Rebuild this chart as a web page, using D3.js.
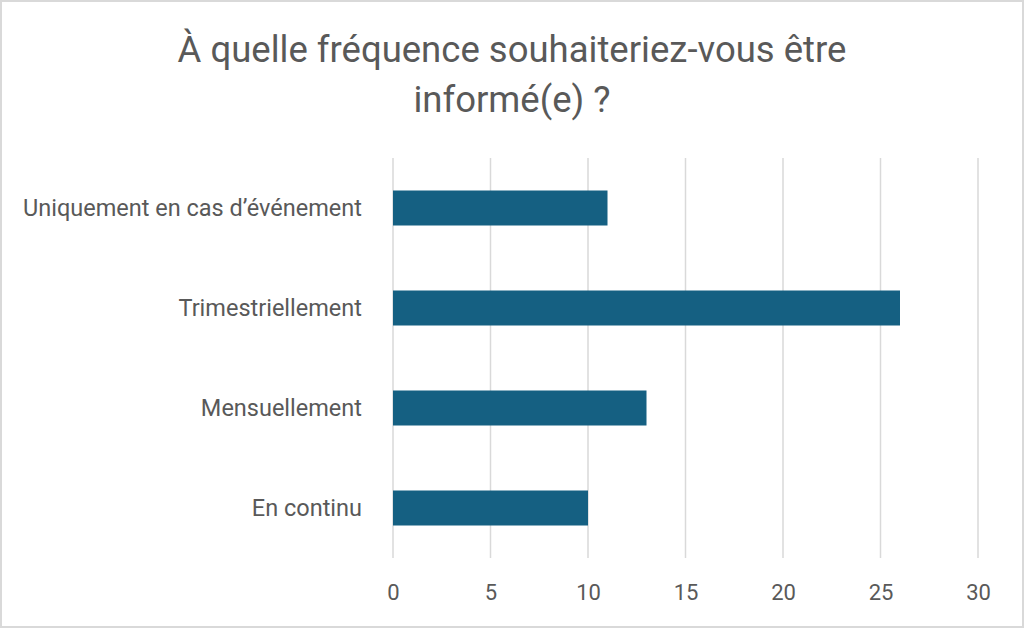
<!DOCTYPE html>
<html>
<head>
<meta charset="utf-8">
<script src="https://cdn.jsdelivr.net/npm/d3@7"></script>
<style>
    body { margin: 0; background: #fff; }
    #chart { width: 1024px; height: 628px; }
    text { font-family: Roboto, "Noto Sans", sans-serif; fill: #595959; }
</style>
</head>
<body>
<div id="chart"></div>
<script>

const titleLines = ["À quelle fréquence souhaiteriez-vous être", "informé(e) ?"];

const categories = ["Uniquement en cas d’événement", "Trimestriellement", "Mensuellement", "En continu"];

const values = [11, 26, 13, 10];

const xTicks = [0, 5, 10, 15, 20, 25, 30];


const width = 1024;
const height = 628;

const svg = d3.select("#chart")
    .append("svg")
    .attr("width", width)
    .attr("height", height);

// border around the whole chart
svg.append("rect")
    .attr("x", 1)
    .attr("y", 1)
    .attr("width", width - 2)
    .attr("height", height - 2)
    .attr("fill", "white")
    .attr("stroke", "#d9d9d9")
    .attr("stroke-width", 2);

const margin = { top: 158, right: 46, bottom: 70, left: 393 };

const x = d3.scaleLinear()
    .domain([0, 30])
    .range([margin.left, width - margin.right]);

const y = d3.scaleBand()
    .domain(categories)
    .range([margin.top, height - margin.bottom])
    .paddingInner(0.65)
    .paddingOuter(0.325);

// TITLE
svg.append("text")
    .attr("x", width / 2)
    .attr("y", 62)
    .attr("text-anchor", "middle")
    .style("font-size", "36.5px")
    .selectAll("tspan")
    .data(titleLines)
    .enter()
    .append("tspan")
    .attr("x", width / 2)
    .attr("dy", (d, i) => i === 0 ? 0 : 50)
    .text(d => d);

// GRIDLINES
svg.selectAll("line.grid")
    .data(xTicks)
    .enter()
    .append("line")
    .attr("class", "grid")
    .attr("x1", d => x(d))
    .attr("x2", d => x(d))
    .attr("y1", margin.top)
    .attr("y2", height - margin.bottom)
    .attr("stroke", "#d9d9d9")
    .attr("stroke-width", 1.5);

// BARS
svg.selectAll("rect.bar")
    .data(values)
    .enter()
    .append("rect")
    .attr("class", "bar")
    .attr("x", x(0))
    .attr("y", (d, i) => y(categories[i]))
    .attr("width", d => x(d) - x(0))
    .attr("height", y.bandwidth())
    .attr("fill", "#156082");

// X AXIS
const xAxis = d3.axisBottom(x)
    .tickValues(xTicks)
    .tickSize(0)
    .tickPadding(0);

const gx = svg.append("g")
    .attr("transform", `translate(0,${height - margin.bottom})`)
    .call(xAxis);
gx.select(".domain").remove();
gx.selectAll("text")
    .attr("dy", 0)
    .attr("y", 42)
    .style("font-size", "22px")
    .style("font-family", "Roboto, sans-serif")
    .style("fill", "#595959");

// Y AXIS
const yAxis = d3.axisLeft(y)
    .tickSize(0)
    .tickPadding(31);

const gy = svg.append("g")
    .attr("transform", `translate(${margin.left},0)`)
    .call(yAxis);
gy.select(".domain").remove();
gy.selectAll("text")
    .style("font-size", "23.5px")
    .style("font-family", "Roboto, sans-serif")
    .style("fill", "#595959");

</script>
</body>
</html>
